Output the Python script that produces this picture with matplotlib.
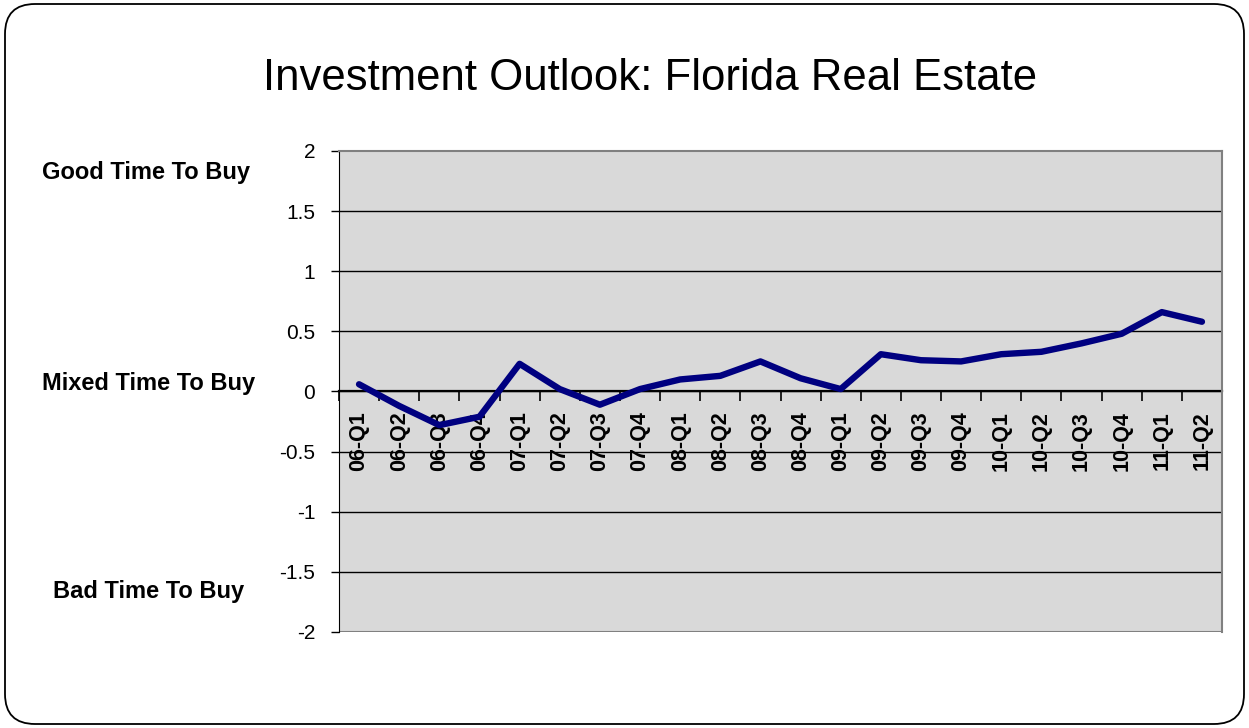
import numpy as np
import matplotlib.pyplot as plt
from matplotlib.patches import FancyBboxPatch

plt.rcParams['font.family'] = ['Liberation Sans', 'DejaVu Sans']
plt.rcParams['axes.unicode_minus'] = False

# Data
quarters = ['06-Q1', '06-Q2', '06-Q3', '06-Q4',
            '07-Q1', '07-Q2', '07-Q3', '07-Q4',
            '08-Q1', '08-Q2', '08-Q3', '08-Q4',
            '09-Q1', '09-Q2', '09-Q3', '09-Q4',
            '10-Q1', '10-Q2', '10-Q3', '10-Q4',
            '11-Q1', '11-Q2']
outlook = [0.06, -0.12, -0.28, -0.21,
           0.23, 0.02, -0.11, 0.02,
           0.10, 0.13, 0.25, 0.11,
           0.02, 0.31, 0.26, 0.25,
           0.31, 0.33, 0.40, 0.48,
           0.66, 0.58]
y_ticks = [-2, -1.5, -1, -0.5, 0, 0.5, 1, 1.5, 2]
y_tick_labels = ['-2', '-1.5', '-1', '-0.5', '0', '0.5', '1', '1.5', '2']
side_labels = ['Good Time To Buy', 'Mixed Time To Buy', 'Bad Time To Buy']
side_label_y = [1.82, 0.07, -1.66]
side_label_x = [-0.219, -0.216, -0.216]

fig = plt.figure(figsize=(12.49, 7.28), dpi=100)

# rounded frame around the whole chart
frame = FancyBboxPatch((0.05, 0.04), 12.39, 7.20,
                       boxstyle='round,pad=0,rounding_size=0.3',
                       transform=fig.dpi_scale_trans,
                       facecolor='none', edgecolor='black', linewidth=1.3)
fig.add_artist(frame)

ax = fig.add_axes([0.2714, 0.1319, 0.707, 0.6607])
ax.set_facecolor('#D9D9D9')

n = len(quarters)
x = np.arange(n) + 0.5
ax.plot(x, outlook, color='#000080', linewidth=4.6,
        solid_joinstyle='round', solid_capstyle='round', zorder=3)

ax.set_xlim(0, n)
ax.set_ylim(-2, 2)

# horizontal gridlines
for v in y_ticks[1:-1]:
    ax.axhline(v, color='black', linewidth=1, zorder=1)
ax.axhline(-2, color='#808080', linewidth=1.5, zorder=2)

for s in ['top', 'right']:
    ax.spines[s].set_color('#808080')
    ax.spines[s].set_linewidth(1.5)
ax.spines['left'].set_color('black')
ax.spines['bottom'].set_position(('data', 0))
ax.spines['bottom'].set_linewidth(1.6)
ax.spines['bottom'].set_zorder(2)

ax.set_yticks(y_ticks)
ax.set_yticklabels(y_tick_labels, fontsize=15)
ax.tick_params(axis='y', direction='out', length=6, width=1, pad=11)

ax.set_xticks(np.arange(n + 1))
ax.set_xticklabels([])
ax.set_xticks(x, minor=True)
ax.set_xticklabels(quarters, minor=True, rotation=90, fontsize=15.5,
                   fontweight='bold')
ax.tick_params(axis='x', which='major', direction='out', length=7, width=1.2)
ax.tick_params(axis='x', which='minor', length=0, pad=14)

fig.text(0.5204, 0.892, 'Investment Outlook: Florida Real Estate',
         ha='center', va='center', fontsize=31.5)

for lab, xv, yv in zip(side_labels, side_label_x, side_label_y):
    ax.text(xv, yv, lab, transform=ax.get_yaxis_transform(),
            ha='center', va='center', fontsize=17, fontweight='bold')

fig.savefig('out.png', dpi=100)
